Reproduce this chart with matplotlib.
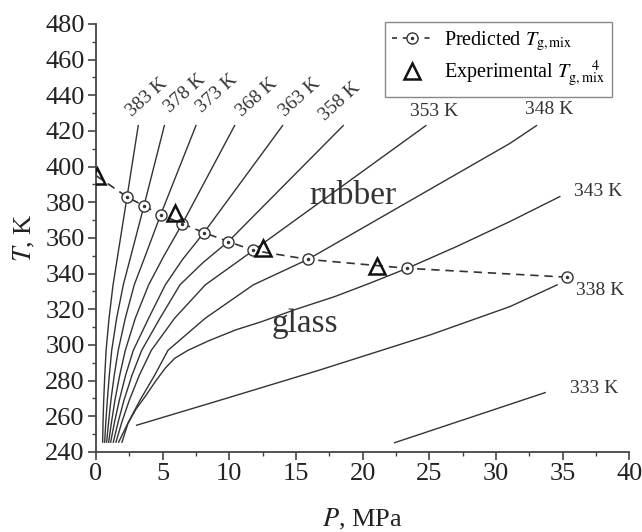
import matplotlib
matplotlib.use('Agg')
import matplotlib.pyplot as plt
from matplotlib.lines import Line2D
from matplotlib.ticker import MultipleLocator

plt.rcParams['font.family'] = ['Liberation Serif', 'DejaVu Serif']
plt.rcParams['mathtext.fontset'] = 'stix'

##### Data #####
# isotherms, P in MPa and T in K
iso_names = ['383 K', '378 K', '373 K', '368 K', '363 K', '358 K', '353 K', '348 K', '343 K', '338 K', '333 K']
iso_P = [
    [0.5, 0.53, 0.58, 0.66, 0.76, 0.98, 1.28, 2.33, 3.17],
    [0.65, 0.74, 0.85, 1.0, 1.18, 1.55, 2.05, 3.6, 5.13],
    [0.8, 0.95, 1.12, 1.37, 1.67, 2.2, 2.87, 3.7, 4.85, 7.5],
    [0.95, 1.17, 1.42, 1.78, 2.2, 2.95, 3.95, 5.1, 6.48, 10.4],
    [1.1, 1.4, 1.75, 2.22, 2.8, 3.95, 5.2, 6.5, 8.1, 14.0],
    [1.3, 1.67, 2.1, 2.7, 3.43, 4.8, 6.3, 8.0, 9.93, 18.55],
    [1.5, 1.95, 2.5, 3.25, 4.15, 5.9, 8.2, 11.8, 24.75],
    [1.7, 2.45, 3.3, 4.4, 5.4, 8.2, 11.8, 15.9, 31.05, 33.05],
    [1.95, 2.4, 3.0, 3.68, 4.5, 5.2, 5.9, 6.9, 8.5, 10.5, 12.4, 15.0, 17.9,
     20.5, 23.35, 27.0, 31.05, 34.8],
    [3.05, 9.3, 16.8, 25.05, 31.05, 34.6],
    [22.4, 33.7],
]
iso_T = [
    [245.5, 257, 269, 283, 297, 315, 333.7, 383, 423],
    [245.5, 257, 269, 283, 297, 315, 333.7, 378, 423],
    [245.5, 257, 269, 283, 297, 315, 333.7, 350, 373, 423],
    [245.5, 257, 269, 283, 297, 315, 333.7, 350, 368, 423],
    [245.5, 257, 269, 283, 297, 315, 333.7, 348, 363, 423],
    [245.5, 257, 269, 283, 297, 315, 333.7, 346, 358, 423],
    [245.5, 257, 269, 283, 297, 315, 333.7, 353, 423],
    [245.5, 257, 269, 283, 297, 315, 333.7, 348, 413, 423],
    [245.5, 256, 264, 271, 280, 287, 292.5, 297, 302.5, 308.5, 313, 320, 327.1,
     334.5, 343, 355, 369.2, 383.2],
    [255, 269, 286, 305.6, 321.5, 333.7],
    [245.2, 273.3],
]
# where the isotherm names sit (P, T, rotation)
lab_P = [3.8, 6.7, 9.05, 12.05, 15.3, 18.3, 25.4, 34.0, 37.7, 37.8, 37.4]
lab_T = [439, 441, 441, 438.5, 438.5, 436.5, 431, 432, 386, 330.5, 275.7]
lab_rot = [42, 42, 42, 42, 42, 42, 0, 0, 0, 0, 0]

# predicted Tg,mix (first point is pure polymer, no marker)
pred_P = [0, 2.33, 3.6, 4.85, 6.48, 8.1, 9.93, 11.8, 15.9, 23.35, 35.35]
pred_T = [395, 383, 378, 373, 368, 363, 358, 353, 348, 343, 338]

# experimental Tg,mix
exp_P = [0.1, 5.93, 12.55, 21.05]
exp_T = [394.8, 374, 354.4, 344.4]

ink = '#333333'

fig = plt.figure(figsize=(6.42, 5.32), dpi=100)
ax = fig.add_axes([0.1495, 0.1504, 0.8305, 0.8046])

for P, T in zip(iso_P, iso_T):
    ax.plot(P, T, color=ink, lw=1.0, solid_joinstyle='round')

for name, x, y, r in zip(iso_names, lab_P, lab_T, lab_rot):
    ax.text(x, y, name, fontsize=14, color=ink, rotation=r,
            ha='center', va='center', rotation_mode='anchor')

ax.text(19.3, 383.5, 'rubber', fontsize=24, color=ink, ha='center', va='center')
ax.text(15.7, 312, 'glass', fontsize=24, color=ink, ha='center', va='center')

pred_line, = ax.plot(pred_P, pred_T, color=ink, lw=1.2, dashes=(5, 3.5),
                     marker='o', markevery=list(range(1, len(pred_P))),
                     ms=8, mfc='white', mec=ink, mew=1.0, zorder=3)
pred_dot, = ax.plot(pred_P[1:], pred_T[1:], ls='none', marker='o', ms=1.5,
                    color=ink, zorder=4)
exp_pts, = ax.plot(exp_P, exp_T, ls='none', marker='^', ms=11, mfc='none',
                   mec='#111111', mew=1.8, zorder=5)

ax.set_xlim(0, 40)
ax.set_ylim(240, 480)
ax.xaxis.set_major_locator(MultipleLocator(5))
ax.xaxis.set_minor_locator(MultipleLocator(2.5))
ax.yaxis.set_major_locator(MultipleLocator(20))
ax.yaxis.set_minor_locator(MultipleLocator(10))
ax.tick_params(which='major', direction='out', length=6, width=1.2, colors='#444444',
               labelsize=19, labelcolor='#222222', pad=2)
ax.tick_params(which='minor', direction='out', length=3, width=1.0, colors='#444444')
for s in ['top', 'right']:
    ax.spines[s].set_visible(False)
for s in ['left', 'bottom']:
    ax.spines[s].set_linewidth(1.3)
    ax.spines[s].set_color('#444444')

ax.set_xlabel(r'$P$, MPa', fontsize=19, color='#222222', labelpad=16)
ax.set_ylabel(r'$T$, K', fontsize=19, color='#222222', labelpad=6)

leg_pred = Line2D([], [], color=ink, lw=1.2, dashes=(3, 3.5), marker='o', ms=8,
                  mfc='white', mec=ink, mew=1.0)
leg_exp = Line2D([], [], ls='none', marker='^', ms=11, mfc='none', mec='#111111', mew=1.8)
leg = ax.legend([(leg_pred, pred_dot), leg_exp],
                [r'Predicted $T_{\rm g,mix}$', r'Experimental $T_{\rm g,mix}^{\ \ \ \ \ \ 4}$'],
                loc='upper right', bbox_to_anchor=(0.968, 1.005), borderaxespad=0,
                fontsize=14.5, frameon=True, fancybox=False, edgecolor='#888888',
                framealpha=1, handlelength=2.0, handletextpad=0.6,
                labelspacing=0.3, borderpad=0.35)
leg.get_frame().set_linewidth(1.0)

fig.savefig('out.png', dpi=100)
